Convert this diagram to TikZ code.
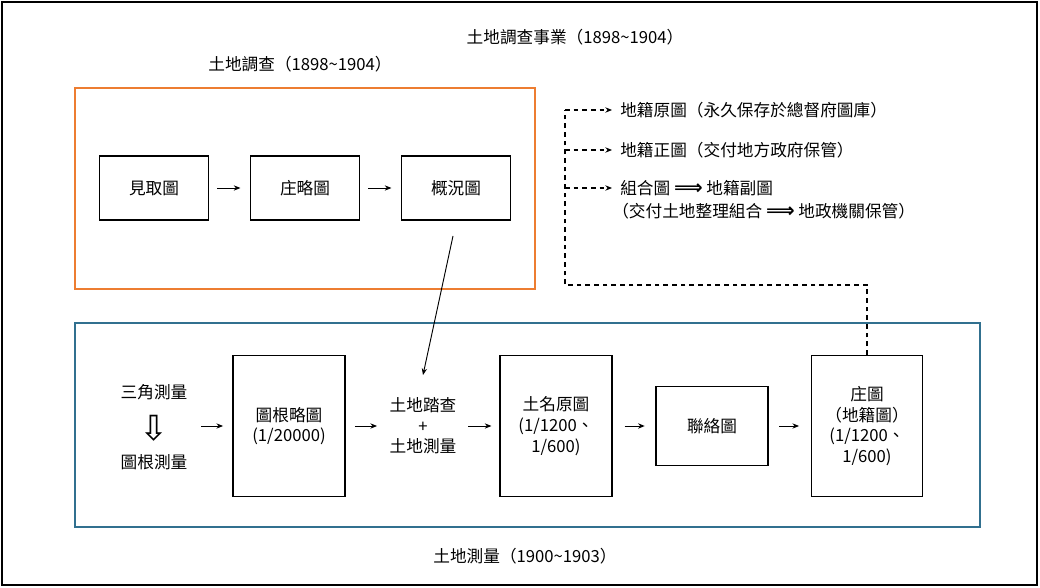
\documentclass[tikz,border=0pt]{standalone}
\usepackage{fontspec}
\setmainfont{Noto Sans CJK TC}
\newfontfamily\dejavu{DejaVu Sans}
\usetikzlibrary{arrows.meta}
\definecolor{org}{HTML}{ED7D31}
\definecolor{blu}{HTML}{31708F}
\begin{document}
\begin{tikzpicture}[x=0.75pt,y=-0.75pt,font=\fontsize{12.5pt}{15.5pt}\selectfont,
 arr/.style={-{Stealth[length=5pt,width=4pt]},line width=0.7pt},
 dsh/.style={dash pattern=on 3.5pt off 3pt,line width=0.8pt},
 dar/.style={-{Stealth[length=5pt,width=4pt]},dsh},
 txt/.style={inner sep=0pt,align=center}]
\useasboundingbox (0,0) rectangle (1040,588);
\draw[line width=0.8pt] (2,2) rectangle (1037,585);
\draw[org,line width=1pt] (75,88) rectangle (535,289);
\draw[blu,line width=1pt] (75,323) rectangle (980,527);
\node[txt] (t0) at (575,37) {土地調查事業（1898\textasciitilde1904）};
\node[txt] (t1) at (300,64) {土地調查（1898\textasciitilde1904）};
\node[txt] (t2) at (525,556) {土地測量（1900\textasciitilde1903）};
\node[draw,line width=0.9pt,minimum width=82pt,minimum height=48pt] (a) at (154,188) {見取圖};
\node[draw,line width=0.9pt,minimum width=82pt,minimum height=48pt] (b) at (305,188) {庄略圖};
\node[draw,line width=0.9pt,minimum width=82pt,minimum height=48pt] (c) at (456,188) {概況圖};
\draw[arr] ([xshift=6]a.east) -- ([xshift=-7]b.west);
\draw[arr] ([xshift=6]b.east) -- ([xshift=-7]c.west);
\node[txt] (s1) at (154,392) {三角測量};
\node[txt,font=\dejavu\fontsize{26pt}{26pt}\selectfont] (s2) at (154,428) {⇩};
\node[txt] (s3) at (154,462) {圖根測量};
\node[draw,line width=0.9pt,minimum width=84pt,minimum height=106pt,align=center] (d) at (289,426) {圖根略圖\\(1/20000)};
\node[txt] (e) at (423,426) {土地踏查\\+\\土地測量};
\node[draw,line width=0.9pt,minimum width=84pt,minimum height=106pt,align=center] (f) at (556,426) {土名原圖\\(1/1200、\\1/600)};
\node[draw,line width=0.9pt,minimum width=84pt,minimum height=59pt] (g) at (712,426) {聯絡圖};
\node[draw,line width=0.9pt,minimum width=83pt,minimum height=106pt,align=center] (h) at (867,426) {庄圖\\（地籍圖）\\(1/1200、\\1/600)};
\coordinate (p0) at (201,426);
\draw[arr] (p0) -- ([xshift=-7]d.west);
\draw[arr] ([xshift=7]d.east) -- (377,426);
\draw[arr] (468,426) -- ([xshift=-6]f.west);
\draw[arr] ([xshift=9]f.east) -- ([xshift=-8]g.west);
\draw[arr] ([xshift=8]g.east) -- ([xshift=-9]h.west);
\coordinate (c0) at (453,236);
\coordinate (c1) at (423,375);
\draw[arr] (c0) -- (c1);
\coordinate (q1) at (867,285);
\coordinate (q2) at (565,285);
\coordinate (q3) at (565,110);
\coordinate (q4) at (565,150);
\coordinate (q5) at (565,188);
\draw[dsh] (h.north) -- (q1) -- (q2) -- (q3);
\node[txt,anchor=west] (r1) at (620,110) {地籍原圖（永久保存於總督府圖庫）};
\node[txt,anchor=west] (r2) at (620,150) {地籍正圖（交付地方政府保管）};
\node[txt,anchor=west] (r3) at (620,188) {組合圖 {\dejavu\bfseries\fontsize{15pt}{15pt}\selectfont⟹} 地籍副圖};
\node[txt,anchor=west] (r4) at (612,211) {（交付土地整理組合 {\dejavu\bfseries\fontsize{15pt}{15pt}\selectfont⟹} 地政機關保管）};
\draw[dar] (q3) -- ([xshift=-6]r1.west);
\draw[dar] (q4) -- ([xshift=-6]r2.west);
\draw[dar] (q5) -- ([xshift=-6]r3.west);
\end{tikzpicture}
\end{document}
